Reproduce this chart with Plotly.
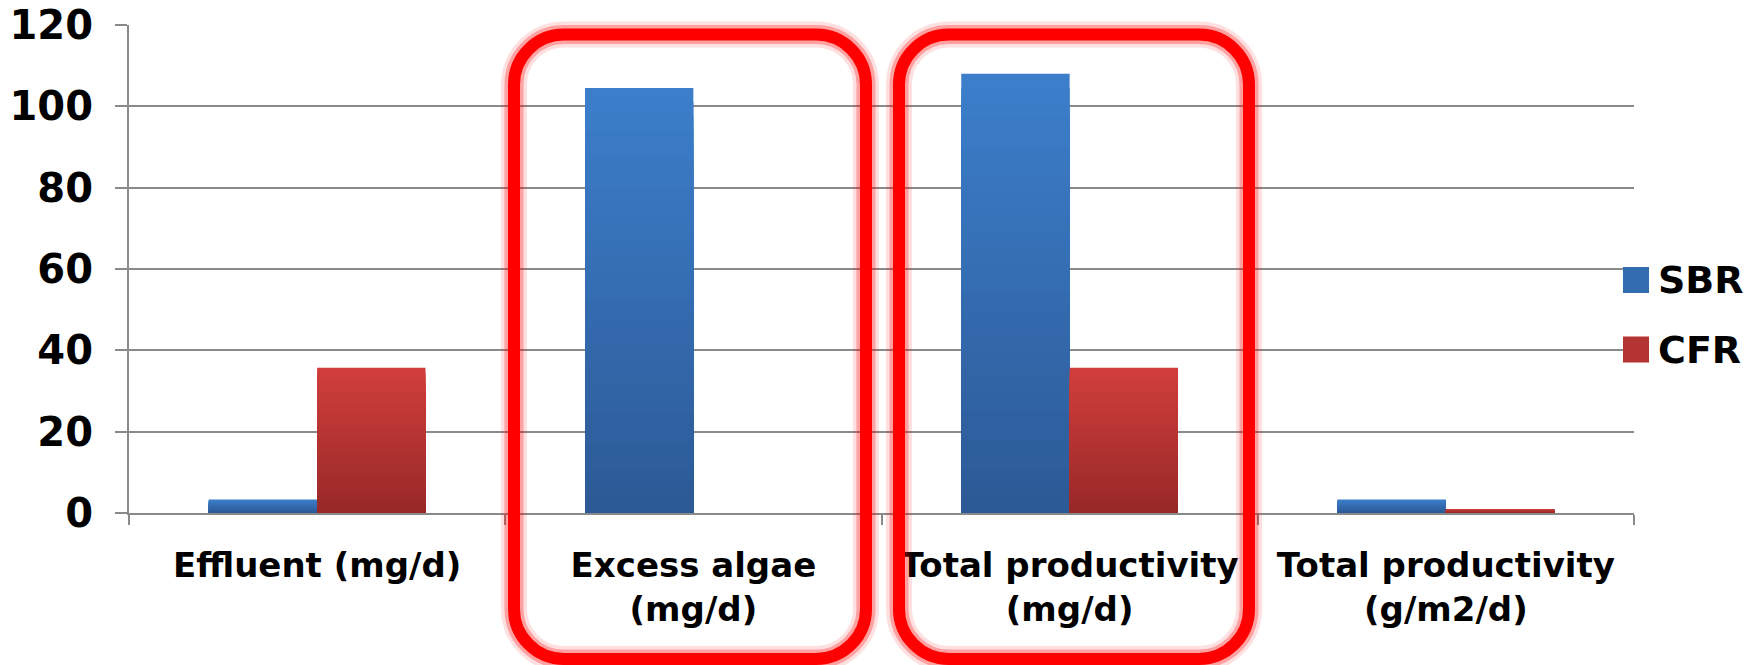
import plotly.graph_objects as go

# ---- data ----
categories = ["Effluent (mg/d)", "Excess algae (mg/d)", "Total productivity (mg/d)", "Total productivity (g/m2/d)"]
tick_labels = ["Effluent (mg/d)", "Excess algae<br>(mg/d)", "Total productivity<br>(mg/d)", "Total productivity<br>(g/m2/d)"]
sbr_values = [3.3, 104.5, 108.0, 3.3]
cfr_values = [35.7, 0.0, 35.7, 1.0]
series_names = ["SBR", "CFR"]
y_ticks = [0, 20, 40, 60, 80, 100, 120]

# ---- layout geometry (page pixels; the page body has an 8px margin) ----
OFF = 8
W, H = 1757 - OFF, 665 - OFF
PLOT_L, PLOT_R, PLOT_T, PLOT_B = 129, 1634, 25, 513   # page coordinates
ML, MT = PLOT_L - OFF, PLOT_T - OFF
PW, PH = PLOT_R - PLOT_L, PLOT_B - PLOT_T
MR, MB = W - ML - PW, H - MT - PH

def px_x(x):
    return (x - PLOT_L) / PW

def px_y(y):
    return (PLOT_B - y) / PH

FONT = "DejaVu Sans"
blue_top, blue_bot = (60, 126, 202), (44, 90, 150)
red_top, red_bot = (208, 62, 59), (152, 41, 40)

def lerp(c1, c2, t):
    return "rgb(%d,%d,%d)" % tuple(round(a + (b - a) * t) for a, b in zip(c1, c2))

fig = go.Figure()
N = 30
bw = 0.288
for vals, off, ctop, cbot in [(sbr_values, -bw, blue_top, blue_bot), (cfr_values, 0.0, red_top, red_bot)]:
    for k in range(N):
        frac = 1 - k / N
        fig.add_trace(go.Bar(
            x=categories, y=[v * frac for v in vals],
            width=bw, offset=off,
            marker=dict(color=lerp(ctop, cbot, k / (N - 1)), line=dict(width=0)),
            showlegend=False, hoverinfo="skip",
        ))

# rounded rectangles (highlight boxes)
def rounded_path(x0, y0, x1, y1, r):
    rx, ry = r / PW, r / PH
    X0, X1 = px_x(x0), px_x(x1)
    Y0, Y1 = px_y(y1), px_y(y0)  # Y0 bottom, Y1 top (paper)
    k = 0.5523
    p = f"M{X0+rx},{Y1} L{X1-rx},{Y1} "
    p += f"C{X1-rx+k*rx},{Y1} {X1},{Y1-ry+k*ry} {X1},{Y1-ry} "
    p += f"L{X1},{Y0+ry} "
    p += f"C{X1},{Y0+ry-k*ry} {X1-rx+k*rx},{Y0} {X1-rx},{Y0} "
    p += f"L{X0+rx},{Y0} "
    p += f"C{X0+rx-k*rx},{Y0} {X0},{Y0+ry-k*ry} {X0},{Y0+ry} "
    p += f"L{X0},{Y1-ry} "
    p += f"C{X0},{Y1-ry+k*ry} {X0+rx-k*rx},{Y1} {X0+rx},{Y1} Z"
    return p

shapes = []
for (x0, x1) in [(514, 866), (899, 1249)]:
    path = rounded_path(x0, 34.5, x1, 659, 50)
    for w, c in [(26, "rgba(255,0,0,0.12)"), (19, "rgba(255,0,0,0.28)"), (12, "#FF0000")]:
        shapes.append(dict(type="path", path=path, xref="paper", yref="paper",
                           line=dict(color=c, width=w), layer="above"))

# manual legend
legend_items = [("SBR", 280, blue_top, blue_bot), ("CFR", 349.5, red_top, red_bot)]
annotations = []
for name, cy, ctop, cbot in legend_items:
    shapes.append(dict(type="rect", xref="paper", yref="paper",
                       x0=px_x(1623), x1=px_x(1649), y0=px_y(cy + 13), y1=px_y(cy - 13),
                       fillcolor=lerp(ctop, cbot, 0.5), line=dict(width=0), layer="above"))
    annotations.append(dict(text=name, xref="paper", yref="paper", x=px_x(1656), y=px_y(cy),
                            xanchor="left", yanchor="middle", showarrow=False,
                            font=dict(family=FONT, size=38, color="black", weight="bold")))

fig.update_layout(
    width=W, height=H,
    margin=dict(l=ML, r=MR, t=MT, b=MB, pad=0, autoexpand=False),
    paper_bgcolor="white", plot_bgcolor="white",
    barmode="overlay", showlegend=False,
    shapes=shapes, annotations=annotations,
    xaxis=dict(
        type="category", range=[-0.5, 3.5], automargin=False,
        tickmode="array", tickvals=categories, ticktext=tick_labels,
        tickson="boundaries", ticks="outside", ticklen=10, tickwidth=2, tickcolor="#8a8a8a",
        showline=True, linecolor="#8a8a8a", linewidth=2,
        showgrid=False, ticklabelstandoff=21, ticklabeloverflow="allow",
        tickfont=dict(family=FONT, size=34, color="black", weight="bold"),
    ),
    yaxis=dict(
        range=[0, 120], tickvals=y_ticks, automargin=False,
        ticks="outside", ticklen=12, tickwidth=2, tickcolor="#8a8a8a",
        showline=True, linecolor="#8a8a8a", linewidth=2,
        showgrid=True, gridcolor="#8a8a8a", gridwidth=2,
        zeroline=False, ticklabelstandoff=14, ticklabeloverflow="allow",
        tickfont=dict(family=FONT, size=40, color="black", weight="bold"),
    ),
)

fig.write_html("out.html")
